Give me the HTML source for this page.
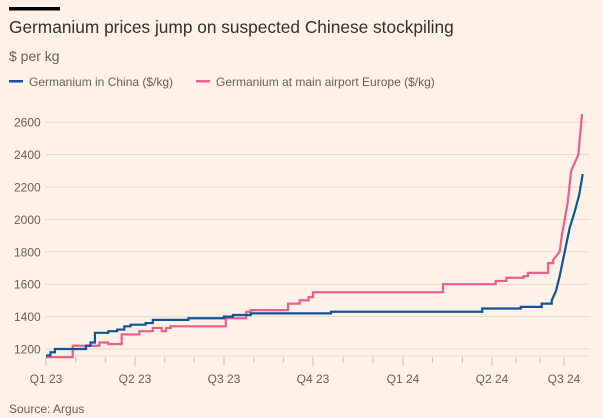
<!DOCTYPE html>
<html><head><meta charset="utf-8">
<style>
body{margin:0;background:#fff1e5;width:603px;height:418px;overflow:hidden;font-family:"Liberation Sans",sans-serif;}
svg{display:block}
</style></head><body>
<svg width="603" height="418">
<rect x="9" y="7" width="51" height="3.5" fill="#000"/>
<text x="9" y="33" font-size="17.3" fill="#33302e">Germanium prices jump on suspected Chinese stockpiling</text>
<text x="9" y="61" font-size="14" fill="#66605c">$ per kg</text>
<g>
<rect x="9" y="80" width="14" height="2.5" fill="#0f5499"/>
<text x="29" y="86" font-size="12" fill="#66605c">Germanium in China ($/kg)</text>
<rect x="196" y="80" width="14" height="2.5" fill="#eb5e8d"/>
<text x="216" y="86" font-size="12" fill="#66605c">Germanium at main airport Europe ($/kg)</text>
</g>
<g id="grid"></g><g id="xaxis"></g><g id="lines"></g>
<text x="9" y="413" font-size="12" fill="#66605c">Source: Argus</text>
</svg>
<script>
const yTicks=[1200,1400,1600,1800,2000,2200,2400,2600];
const xTickLabels=["Q1 23","Q2 23","Q3 23","Q4 23","Q1 24","Q2 24","Q3 24"];
const xTickQuarters=[0,1,2,3,4,5,6];
const chinaX=[0,0.05,0.1,0.35,0.45,0.5,0.55,0.7,0.8,0.88,0.95,1.12,1.2,1.6,2.0,2.1,2.3,3.2,4.89,5.4,5.69,5.83,5.89,5.94,6.01,6.08,6.15,6.21,6.26];
const chinaY=[1160,1180,1200,1200,1220,1240,1300,1310,1320,1340,1350,1360,1380,1390,1400,1410,1420,1430,1450,1460,1480,1500,1560,1650,1800,1950,2050,2150,2280];
const europeX=[0,0.3,0.6,0.7,0.85,1.05,1.2,1.3,1.35,1.4,2.02,2.25,2.3,2.72,2.85,2.95,3.0,4.45,5.05,5.2,5.44,5.5,5.78,5.85,5.94,5.97,6.01,6.05,6.1,6.15,6.2,6.25];
const europeY=[1150,1220,1240,1230,1290,1310,1330,1310,1330,1340,1390,1430,1440,1480,1500,1520,1550,1600,1620,1640,1650,1670,1730,1750,1800,1900,2000,2100,2300,2350,2400,2650];
const anchorsQ=[0,1,2,3,4,5,6,7];
const anchorsPx=[46,135,224,313,403,492,564,636];
function xs(q){for(let i=0;i<anchorsQ.length-1;i++){if(q<=anchorsQ[i+1]){return anchorsPx[i]+(q-anchorsQ[i])/(anchorsQ[i+1]-anchorsQ[i])*(anchorsPx[i+1]-anchorsPx[i]);}}return anchorsPx[anchorsPx.length-1];}
function ys(v){return 349-(v-1200)/200*32.4;}
const NS="http://www.w3.org/2000/svg";
const grid=document.getElementById('grid');
yTicks.forEach(t=>{
 const l=document.createElementNS(NS,'line');
 l.setAttribute('x1',45);l.setAttribute('x2',590);l.setAttribute('y1',ys(t));l.setAttribute('y2',ys(t));
 l.setAttribute('stroke','#e6d9ce');l.setAttribute('stroke-width','1');
 
 
 grid.appendChild(l);
 const tx=document.createElementNS(NS,'text');
 tx.setAttribute('x',14);tx.setAttribute('y',ys(t)+4.5);tx.setAttribute('font-size','12');tx.setAttribute('fill','#66605c');
 tx.textContent=t;
 
 
 grid.appendChild(tx);
});
const xa=document.getElementById('xaxis');
const base=document.createElementNS(NS,'line');
base.setAttribute('x1',45);base.setAttribute('x2',590);base.setAttribute('y1',356);base.setAttribute('y2',356);
base.setAttribute('stroke','#e6d9ce');


xa.appendChild(base);
for(let m=0;m<=18;m++){
 const q=m/3;const big=(m%3===0);
 const l=document.createElementNS(NS,'line');
 l.setAttribute('x1',xs(q));l.setAttribute('x2',xs(q));l.setAttribute('y1',357);l.setAttribute('y2',big?366:363);
 l.setAttribute('stroke','#ccc1b7');
 
 
 xa.appendChild(l);
}
xTickLabels.forEach((s,i)=>{
 const tx=document.createElementNS(NS,'text');
 tx.setAttribute('x',xs(xTickQuarters[i]));tx.setAttribute('y',383);tx.setAttribute('text-anchor','middle');
 tx.setAttribute('font-size','12');tx.setAttribute('fill','#66605c');tx.textContent=s;
 
 
 xa.appendChild(tx);
});
function stepPath(X,Y,linFrom){let d='M'+xs(X[0])+','+ys(Y[0]);for(let i=1;i<X.length;i++){if(X[i]>linFrom){d+=' L'+xs(X[i])+','+ys(Y[i]);}else{d+=' L'+xs(X[i])+','+ys(Y[i-1])+' L'+xs(X[i])+','+ys(Y[i]);}}return d;}
const lines=document.getElementById('lines');
const pe=document.createElementNS(NS,'path');
pe.setAttribute('d',stepPath(europeX,europeY,5.9));pe.setAttribute('fill','none');pe.setAttribute('stroke','#eb5e8d');pe.setAttribute('stroke-width','2.2');


lines.appendChild(pe);
const pc=document.createElementNS(NS,'path');
pc.setAttribute('d',stepPath(chinaX,chinaY,5.85));pc.setAttribute('fill','none');pc.setAttribute('stroke','#0f5499');pc.setAttribute('stroke-width','2.2');


lines.appendChild(pc);
</script>
</body></html>
